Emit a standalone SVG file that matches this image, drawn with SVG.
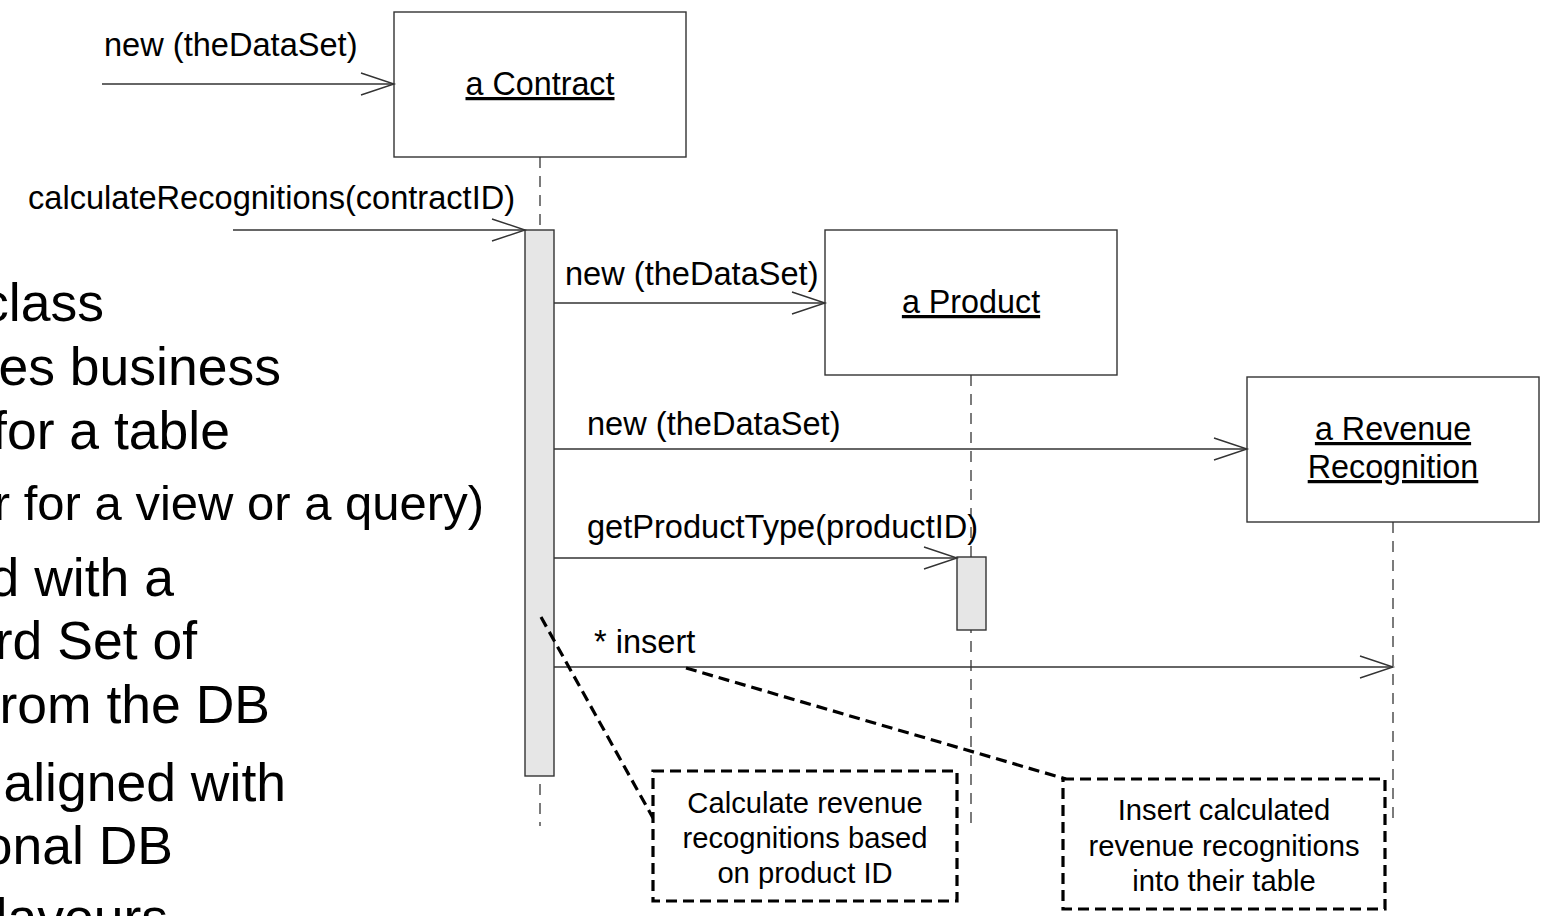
<svg xmlns="http://www.w3.org/2000/svg" width="1550" height="916" viewBox="0 0 1550 916">
<style>
  text { font-family: "Liberation Sans", Arial, sans-serif; fill: #000; }
  .big { font-size: 53.5px; }
  .mid { font-size: 49px; }
  .lbl { font-size: 32.6px; }
  .node { font-size: 32.3px; text-anchor: middle; text-decoration: underline; }
  .note { font-size: 29.2px; text-anchor: middle; }
  .box { fill: #fff; stroke: #333; stroke-width: 1.4; }
  .act { fill: #e6e6e6; stroke: #333; stroke-width: 1.4; }
  .life { stroke: #444; stroke-width: 1.4; stroke-dasharray: 11 8; fill: none; }
  .msg { stroke: #333; stroke-width: 1.4; fill: none; marker-end: url(#open); }
  .notebox { fill: #fff; stroke: #000; stroke-width: 3.2; stroke-dasharray: 11 6; }
  .anchor { stroke: #000; stroke-width: 3.2; stroke-dasharray: 11 6; fill: none; }
</style>
<defs>
  <marker id="open" markerUnits="userSpaceOnUse" markerWidth="40" markerHeight="26" refX="34" refY="12" orient="auto">
    <path d="M1,1 L34,12 L1,23" fill="none" stroke="#333" stroke-width="1.4"/>
  </marker>
</defs>
<rect width="1550" height="916" fill="#fff"/>

<g id="slide-text">
  <text class="big" x="104" y="321" text-anchor="end">class</text>
  <text class="big" x="281" y="385" text-anchor="end">es business</text>
  <text class="big" x="230" y="449" text-anchor="end">for a table</text>
  <text class="mid" x="484" y="520" text-anchor="end">r for a view or a query)</text>
  <text class="big" x="174" y="596" text-anchor="end">d with a</text>
  <text class="big" x="197" y="659" text-anchor="end">rd Set of</text>
  <text class="big" x="270" y="723" text-anchor="end">from the DB</text>
  <text class="big" x="286" y="801" text-anchor="end">aligned with</text>
  <text class="big" x="173" y="864" text-anchor="end">onal DB</text>
  <text class="big" x="168" y="936" text-anchor="end">lavours</text>
</g>

<g id="lifelines">
  <line class="life" x1="540" y1="157" x2="540" y2="826"/>
  <line class="life" x1="971" y1="375" x2="971" y2="826"/>
  <line class="life" x1="1393" y1="522" x2="1393" y2="826"/>
</g>

<g id="contract">
  <rect class="box" x="394" y="12" width="292" height="145"/>
  <text class="node" x="540" y="95">a Contract</text>
  <rect class="act" x="525" y="230" width="29" height="546"/>
</g>

<g id="product">
  <rect class="box" x="825" y="230" width="292" height="145"/>
  <text class="node" x="971" y="313">a Product</text>
  <rect class="act" x="957" y="557" width="29" height="73"/>
</g>

<g id="revenue-recognition">
  <rect class="box" x="1247" y="377" width="292" height="145"/>
  <text class="node" x="1393" y="440">a Revenue</text>
  <text class="node" x="1393" y="478">Recognition</text>
</g>

<g id="connectors">
  <line class="msg" x1="102" y1="84" x2="394" y2="84"/>
  <line class="msg" x1="233" y1="230" x2="525" y2="230"/>
  <line class="msg" x1="554" y1="303" x2="825" y2="303"/>
  <line class="msg" x1="554" y1="449" x2="1247" y2="449"/>
  <line class="msg" x1="554" y1="558" x2="957" y2="558"/>
  <line class="msg" x1="554" y1="667" x2="1393" y2="667"/>
  <line class="anchor" x1="541" y1="617" x2="653" y2="818"/>
  <line class="anchor" x1="686" y1="668" x2="1066" y2="779"/>
</g>

<g id="message-labels">
  <text class="lbl" x="104" y="56">new (theDataSet)</text>
  <text class="lbl" x="28" y="209">calculateRecognitions(contractID)</text>
  <text class="lbl" x="565" y="285">new (theDataSet)</text>
  <text class="lbl" x="587" y="435">new (theDataSet)</text>
  <text class="lbl" x="587" y="538">getProductType(productID)</text>
  <text class="lbl" x="594" y="653">* insert</text>
</g>

<g id="note-calculate">
  <rect class="notebox" x="653" y="771" width="304" height="130"/>
  <text class="note" x="805" y="813">Calculate revenue</text>
  <text class="note" x="805" y="848">recognitions based</text>
  <text class="note" x="805" y="883">on product ID</text>
</g>

<g id="note-insert">
  <rect class="notebox" x="1063" y="779" width="322" height="130"/>
  <text class="note" x="1224" y="820">Insert calculated</text>
  <text class="note" x="1224" y="856">revenue recognitions</text>
  <text class="note" x="1224" y="891">into their table</text>
</g>
</svg>
